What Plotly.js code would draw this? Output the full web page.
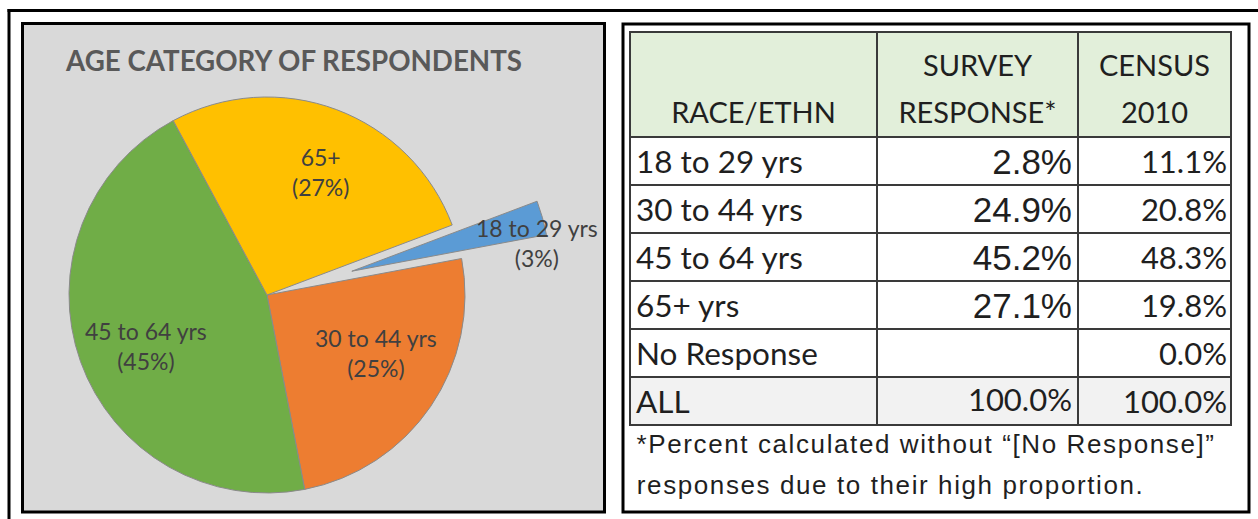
<!DOCTYPE html>
<html><head><meta charset="utf-8">
<script src="https://cdn.plot.ly/plotly-3.0.1.min.js"></script>
<style>
html,body{margin:0;padding:0;background:#fff;overflow:hidden}
#chart{width:1258px;height:519px}
.annotation[data-index="0"] text, .annotation[data-index="1"] text {letter-spacing:1.6px}
g.column-block:not(#header) text.cell-text {translate: 0px 5px}
g.y-column:nth-child(2) g.column-block:not(#header) text.cell-text {translate: -2px 5px}
g.y-column:nth-child(3) g.column-block:not(#header) text.cell-text {translate: 2px 3px}
g.y-column:nth-child(4) g.column-block:not(#header) text.cell-text {translate: 4px 5px}
</style>
</head><body><div id="chart"></div>
<script>
// ---- data ----
const chartTitle = 'AGE CATEGORY OF RESPONDENTS';
const ageLabels = ['18 to 29 yrs', '30 to 44 yrs', '45 to 64 yrs', '65+'];
const ageShares = [2.8, 24.9, 45.2, 27.1];
const sliceColors = ['#5B9BD5', '#ED7D31', '#70AD47', '#FFC000'];

const headerTop = ['', 'SURVEY', 'CENSUS'];
const headerBottom = ['RACE/ETHN', 'RESPONSE*', '2010'];
const rowLabels = ['18 to 29 yrs', '30 to 44 yrs', '45 to 64 yrs', '65+ yrs', 'No Response', 'ALL'];
const surveyResponse = ['2.8%', '24.9%', '45.2%', '27.1%', '', '100.0%'];
const census2010 = ['11.1%', '20.8%', '48.3%', '19.8%', '0.0%', '100.0%'];
const footnoteLines = ['*Percent calculated without \u201c[No Response]\u201d', 'responses due to their high proportion.'];

// ---- layout helpers ----
const W = 1258, H = 519;
const px = x => x / W, py = y => 1 - y / H;
const cx = 267, cy = 295, R = 198, pullFrac = 0.445, rot = 69.3;
const total = ageShares.reduce((a, b) => a + b, 0);
const bis = (rot + ageShares[0] / total * 180) * Math.PI / 180;
const ox = pullFrac * R * Math.sin(bis), oy = -pullFrac * R * Math.cos(bis);
const clear = 'rgba(0,0,0,0)';
const edge = '#8a8a8a';
const labelFont = {family: 'Lato', size: 23, color: '#404040'};
// label anchor positions (px) for each slice, same order as ageLabels
const labelPos = [[537, 243], [376, 352.5], [146, 346], [320, 171.5]];

const mainPie = {
  type: 'pie', labels: ageLabels, values: ageShares, sort: false,
  direction: 'clockwise', rotation: rot,
  domain: {x: [px(cx - R), px(cx + R)], y: [py(cy + R), py(cy - R)]},
  marker: {colors: sliceColors.map((c, i) => i === 0 ? clear : c),
           line: {color: ageShares.map((_, i) => i === 0 ? clear : edge), width: 1}},
  textinfo: 'none', hoverinfo: 'skip', showlegend: false
};
const pulledPie = {
  type: 'pie', labels: ageLabels, values: ageShares, sort: false,
  direction: 'clockwise', rotation: rot,
  domain: {x: [px(cx + ox - R), px(cx + ox + R)], y: [py(cy + oy + R), py(cy + oy - R)]},
  marker: {colors: sliceColors.map((c, i) => i === 0 ? c : clear),
           line: {color: ageShares.map((_, i) => i === 0 ? edge : clear), width: 1}},
  textinfo: 'none', hoverinfo: 'skip', showlegend: false
};

// ---- text measuring for centring multi-line header cells ----
const ctx = document.createElement('canvas').getContext('2d');
const tw = (t, size, fam) => { ctx.font = size + 'px "' + fam + '"'; return ctx.measureText(t).width; };
const NB = '\u00a0';
const HS = 29, HB = 36;
const span = (t, s) => '<span style="font-size:' + s + 'px">' + t + '</span>';
function padSpan(w) {
  const unit = tw(NB, 100, 'Lato') / 100;
  const full = unit * HS;
  const k = Math.floor(w / full);
  const rest = w - k * full;
  let out = k > 0 ? span(NB.repeat(k), HS) : '';
  if (rest > 0.3) out += span(NB, (rest / unit).toFixed(2));
  return out;
}
const nbW = tw(NB, HB, 'Lato');
const headerVals = headerTop.map((t, i) => {
  const b = headerBottom[i];
  const a = t ? tw(t, HS, 'Lato') : 0;
  const bw = tw(b, HS, 'Lato');
  let l1 = NB + (t ? span(t, HS) : '') + NB;
  const w1 = a + 2 * nbW;
  let l2 = span(b, HS);
  if (w1 > bw) l2 = padSpan((w1 - bw) / 2) + l2; else l1 = padSpan((bw - w1) / 2) + l1;
  return l1 + '<br>' + l2;
});

const nR = rowLabels.length;
const rowFill = i => i === nR - 1 ? '#F2F2F2' : '#FFFFFF';
const lato = 'Lato', arial = 'Liberation Sans';
const isArial = i => i < 4;

const table = {
  type: 'table',
  domain: {x: [px(630), px(1231)], y: [py(430), py(32)]},
  columnwidth: [247, 201, 153],
  header: {
    values: headerVals, align: 'center', height: 103,
    fill: {color: '#E2EFDA'},
    font: {family: lato, size: HB, color: '#1f1f1f'},
    line: {color: '#3a3a3a', width: 2}
  },
  cells: {
    values: [rowLabels, surveyResponse, census2010],
    align: ['left', 'right', 'right'], height: 48,
    fill: {color: [0, 1, 2].map(() => rowLabels.map((_, i) => rowFill(i)))},
    font: {
      family: [rowLabels.map(() => lato), surveyResponse.map((_, i) => isArial(i) ? arial : lato), census2010.map(() => lato)],
      size: [rowLabels.map(() => 31.5), surveyResponse.map((_, i) => isArial(i) ? 35 : 31), census2010.map(() => 31)],
      color: '#1f1f1f'
    },
    line: {color: '#3a3a3a', width: 2}
  }
};

const shapes = [
  {type: 'line', xref: 'paper', yref: 'paper', x0: px(7.5), x1: px(1262), y0: py(10.5), y1: py(10.5), line: {color: '#000', width: 3}, layer: 'below'},
  {type: 'line', xref: 'paper', yref: 'paper', x0: px(9), x1: px(9), y0: py(9), y1: py(525), line: {color: '#000', width: 3}, layer: 'below'},
  {type: 'rect', xref: 'paper', yref: 'paper', x0: px(22.5), x1: px(604.5), y0: py(512), y1: py(23.5), fillcolor: '#D9D9D9', line: {color: '#000', width: 3}, layer: 'below'},
  {type: 'rect', xref: 'paper', yref: 'paper', x0: px(623), x1: px(1249), y0: py(512), y1: py(24), fillcolor: '#FFFFFF', line: {color: '#000', width: 3}, layer: 'below'}
];

// footnote: letter-spaced via CSS, so centre it using the spaced width
const FN = 26, LS = 1.6;
const fnW = t => tw(t, FN, arial) + LS * t.length;
const fnY = [444, 485];
const annotations = footnoteLines.map((t, i) => ({
  xref: 'paper', yref: 'paper', x: px(637 + fnW(t) / 2), y: py(fnY[i]), xanchor: 'center', yanchor: 'middle', showarrow: false,
  text: t, font: {family: arial, size: FN, color: '#1f1f1f'}
})).concat(ageLabels.map((lab, i) => ({
  xref: 'paper', yref: 'paper', x: px(labelPos[i][0]), y: py(labelPos[i][1]),
  xanchor: 'center', yanchor: 'middle', showarrow: false,
  text: lab + '<br>(' + Math.round(ageShares[i] / total * 100) + '%)', font: labelFont
})));

const layout = {
  width: W, height: H, margin: {l: 0, r: 0, t: 0, b: 0},
  paper_bgcolor: '#FFFFFF', showlegend: false,
  title: {text: chartTitle, x: px(294), xanchor: 'center', xref: 'paper', y: py(61), yanchor: 'middle', yref: 'paper',
          font: {family: 'Lato', size: 27.7, weight: 'bold', color: '#595959'}},
  shapes: shapes, annotations: annotations
};

Plotly.newPlot('chart', [mainPie, pulledPie, table], layout, {displayModeBar: false, staticPlot: true});
</script>
</body></html>
